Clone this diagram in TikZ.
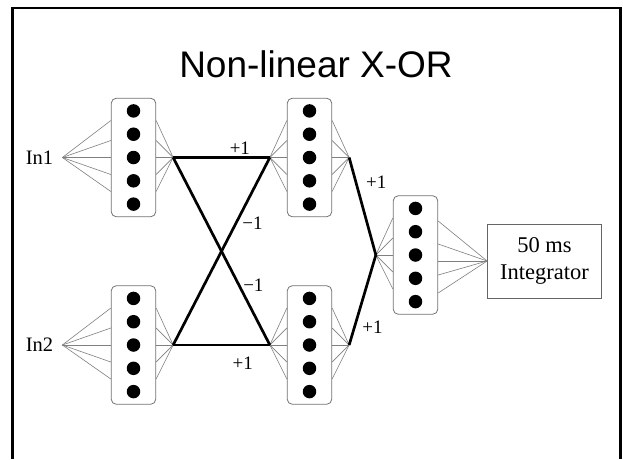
\documentclass[tikz,border=0pt]{standalone}
\usepackage{fontspec}
\setmainfont{Liberation Serif}
\newfontfamily\titlefont{Liberation Sans}
\usetikzlibrary{calc}

\begin{document}
\begin{tikzpicture}[x=1pt,y=-1pt,
        layerbox/.style={draw=black!55, line width=0.8pt, rounded corners=5pt, minimum width=44.5pt, minimum height=118.5pt, inner sep=0pt},
        unit/.style={circle, fill=black, minimum size=13.5pt, inner sep=0pt},
        fan/.style={black!50, line width=0.6pt},
        weight/.style={line width=2.7pt},
        wlabel/.style={font=\fontsize{19}{19}\selectfont, inner sep=0pt},
        inlabel/.style={font=\fontsize{20.5}{20.5}\selectfont, inner ysep=0pt, inner xsep=9pt, anchor=east}]
        \useasboundingbox (0,0) rectangle (623,459);
        \fill[white] (0,0) rectangle (623,459);
        \draw[line width=2.5pt] (12.5,459) -- (12.5,8) -- (620.5,8) -- (620.5,459);

        \node[anchor=base, font=\titlefont\fontsize{37}{37}\selectfont] (title) at (316,77) {Non-linear X-OR};

        % layers of units
        \foreach \name/\x/\y in {A1/133.5/157.5, A2/133.5/345, B1/309.5/157.5, B2/309.5/345, C/415.5/255}{
            \node[layerbox] (\name) at (\x,\y) {};
            \foreach \k in {1,...,5}
                \node[unit] (\name-\k) at ($(\name)+(0,{23.3*(\k-3)})$) {};
        }

        \node[inlabel] (in1) at ($(A1.west)+(-48.5,0)$) {In1};
        \node[inlabel] (in2) at ($(A2.west)+(-48.5,0)$) {In2};
        \node[draw=black!60, line width=0.8pt, minimum width=114pt, minimum height=74pt, align=center,
            font=\fontsize{22.5}{27}\selectfont] (integ) at (544.5,261) {50 ms\\Integrator};

        % fan points
        \coordinate (A1-out) at ($(A1.east)+(17,0)$);
        \coordinate (A2-out) at ($(A2.east)+(17,0)$);
        \coordinate (B1-in) at ($(B1.west)+(-17,0)$);
        \coordinate (B2-in) at ($(B2.west)+(-17,0)$);
        \coordinate (B1-out) at ($(B1.east)+(17,0)$);
        \coordinate (B2-out) at ($(B2.east)+(17,0)$);
        \coordinate (C-in) at ($(C.west)+(-17,0)$);

        \foreach \d in {-37,-17,0,17,34}{
            \draw[fan] (in1.east) -- ($(A1.west)+(0,\d)$);
            \draw[fan] (in2.east) -- ($(A2.west)+(0,\d)$);
            \draw[fan] (A1-out) -- ($(A1.east)+(0,\d)$);
            \draw[fan] (A2-out) -- ($(A2.east)+(0,\d)$);
            \draw[fan] (B1-in) -- ($(B1.west)+(0,\d)$);
            \draw[fan] (B2-in) -- ($(B2.west)+(0,\d)$);
            \draw[fan] (B1-out) -- ($(B1.east)+(0,\d)$);
            \draw[fan] (B2-out) -- ($(B2.east)+(0,\d)$);
            \draw[fan] (C-in) -- ($(C.west)+(0,\d)$);
        }
        \foreach \d in {-34,-11,6,20,38}
            \draw[fan] (integ.west) -- ($(C.east)+(0,\d)$);

        % weights
        \draw[weight] (A1-out) -- node[wlabel, pos=0.69, above=2pt] {+1} (B1-in);
        \draw[weight] (A2-out) -- node[wlabel, pos=0.72, below=11pt] {+1} (B2-in);
        \draw[weight] (A2-out) -- node[wlabel, pos=0.65, right=5pt] {−1} (B1-in);
        \draw[weight] (A1-out) -- node[wlabel, pos=0.68, right=3pt] {−1} (B2-in);
        \draw[weight] (B1-out) -- node[wlabel, pos=0.25, right=9pt] {+1} (C-in);
        \draw[weight] (B2-out) -- node[wlabel, pos=0.2, right=6.5pt] {+1} (C-in);
    \end{tikzpicture}
\end{document}
